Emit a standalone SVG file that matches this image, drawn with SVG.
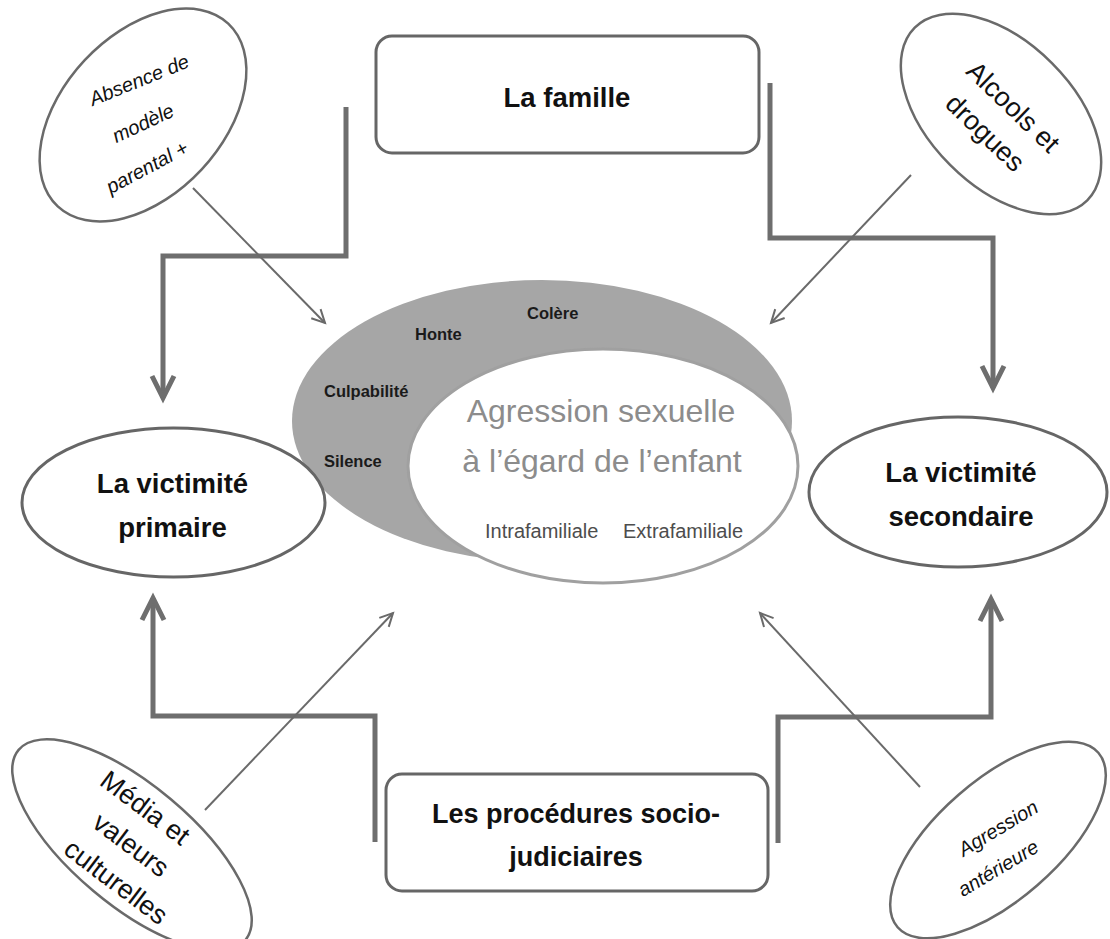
<svg xmlns="http://www.w3.org/2000/svg" width="1110" height="939" viewBox="0 0 1110 939">
<style>
text{font-family:"Liberation Sans",Arial,sans-serif;text-anchor:middle}
.b{font-weight:bold;fill:#111}
.node{fill:#fff;stroke:#666;stroke-width:3}
.small{fill:#fff;stroke:#6a6a6a;stroke-width:2.5}
.thick{fill:none;stroke:#6e6e6e;stroke-width:5;stroke-linejoin:miter;stroke-linecap:butt}
.thin{fill:none;stroke:#6a6a6a;stroke-width:2}
.it{font-style:italic;font-size:20px;fill:#111}
.rg{font-size:27px;fill:#111}
.emo{font-size:16.5px;font-weight:bold;fill:#1a1a1a;text-anchor:start}
.sub{font-size:20px;fill:#4d4d4d;text-anchor:start}
.big{font-size:32px;fill:#8c8c8c}
</style>
<defs>
<marker id="ah" markerUnits="userSpaceOnUse" viewBox="-28 -15 36 30" markerWidth="36" markerHeight="30" refX="0" refY="0" orient="auto" overflow="visible">
<path d="M-22,-11 L0,0 L-22,11" fill="none" stroke="#6e6e6e" stroke-width="5" stroke-linejoin="miter"/>
</marker>
<marker id="at" markerUnits="userSpaceOnUse" viewBox="-16 -10 20 20" markerWidth="20" markerHeight="20" refX="0" refY="0" orient="auto" overflow="visible">
<path d="M-13,-6.5 L0,0 L-13,6.5" fill="none" stroke="#6a6a6a" stroke-width="2"/>
</marker>
</defs>
<rect width="1110" height="939" fill="#fff"/>

<g id="centre">
<ellipse cx="542" cy="421" rx="250" ry="141" fill="#a6a6a6"/>
<ellipse cx="603" cy="466" rx="195" ry="117" fill="#fff" stroke="#a0a0a0" stroke-width="3"/>
<text class="emo" x="527" y="319">Colère</text>
<text class="emo" x="415" y="340">Honte</text>
<text class="emo" x="324" y="397">Culpabilité</text>
<text class="emo" x="324" y="467">Silence</text>
<text class="big" x="601" y="422">Agression sexuelle</text>
<text class="big" x="602" y="472">à l’égard de l’enfant</text>
<text class="sub" x="485" y="538">Intrafamiliale</text>
<text class="sub" x="623" y="538">Extrafamiliale</text>
</g>

<g id="famille">
<rect x="376" y="36" width="383" height="117" rx="16" class="node"/>
<text class="b" x="567" y="107" font-size="27.5">La famille</text>
</g>

<g id="procedures">
<rect x="386" y="774" width="382" height="117" rx="16" class="node"/>
<text class="b" x="576" y="823" font-size="27">Les procédures socio-</text>
<text class="b" x="576" y="866" font-size="27">judiciaires</text>
</g>

<g id="primaire">
<ellipse cx="173.5" cy="502.5" rx="151.5" ry="74.5" class="node"/>
<text class="b" x="172.5" y="493" font-size="27.5">La victimité</text>
<text class="b" x="172.5" y="537" font-size="27.5">primaire</text>
</g>

<g id="secondaire">
<ellipse cx="958" cy="492" rx="149" ry="75" class="node"/>
<text class="b" x="961" y="482" font-size="27.5">La victimité</text>
<text class="b" x="961" y="526" font-size="27.5">secondaire</text>
</g>

<g id="absence">
<ellipse cx="143" cy="115" rx="125" ry="80" transform="rotate(-47 143 115)" class="small"/>
<text class="it" transform="translate(139 80) rotate(-22)" y="7">Absence de</text>
<text class="it" transform="translate(143 123) rotate(-25)" y="7">modèle</text>
<text class="it" transform="translate(147 167) rotate(-28)" y="7">parental +</text>
</g>

<g id="alcools">
<ellipse cx="1001" cy="114" rx="122" ry="72" transform="rotate(45 1001 114)" class="small"/>
<text class="rg" font-size="28" transform="translate(1013 107) rotate(44)" y="9">Alcools et</text>
<text class="rg" font-size="28" transform="translate(985 133) rotate(44)" y="9">drogues</text>
</g>

<g id="media">
<ellipse cx="132" cy="845" rx="148" ry="60" transform="rotate(40 132 845)" class="small"/>
<text class="rg" transform="translate(145 808) rotate(37)" y="9">Média et</text>
<text class="rg" transform="translate(131 845) rotate(37)" y="9">valeurs</text>
<text class="rg" transform="translate(116 882) rotate(37)" y="9">culturelles</text>
</g>

<g id="anterieure">
<ellipse cx="998" cy="840" rx="133" ry="60" transform="rotate(-41 998 840)" class="small"/>
<text class="it" font-size="22" transform="translate(998 828) rotate(-31)" y="7">Agression</text>
<text class="it" font-size="22" transform="translate(998 868) rotate(-31)" y="7">antérieure</text>
</g>

<g id="connectors">
<path class="thick" d="M346,107 V256 H163 V398" marker-end="url(#ah)"/>
<path class="thick" d="M770,83 V238 H993 V388" marker-end="url(#ah)"/>
<path class="thick" d="M375,842 V716 H153 V598" marker-end="url(#ah)"/>
<path class="thick" d="M778,843 V717 H991 V599" marker-end="url(#ah)"/>
<line class="thin" x1="193" y1="188" x2="325" y2="323" marker-end="url(#at)"/>
<line class="thin" x1="911" y1="175" x2="771" y2="323" marker-end="url(#at)"/>
<line class="thin" x1="205" y1="810" x2="393" y2="613" marker-end="url(#at)"/>
<line class="thin" x1="920" y1="787" x2="760" y2="613" marker-end="url(#at)"/>
</g>
</svg>
